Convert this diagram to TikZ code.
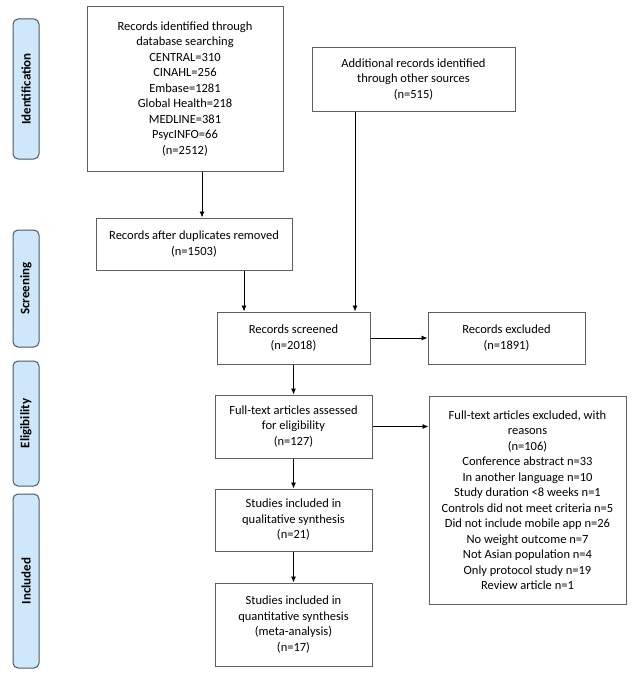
\documentclass[tikz,border=0pt]{standalone}
\usepackage{fontspec}
\setmainfont{Carlito}
\usetikzlibrary{arrows.meta}
\definecolor{boxline}{RGB}{95,95,95}
\definecolor{barline}{RGB}{75,88,100}
\definecolor{barfill}{RGB}{207,231,250}
\begin{document}
\begin{tikzpicture}[x=1pt,y=-1pt,
  box/.style={draw=boxline, line width=1pt, fill=white, align=center, inner sep=0pt,
    font=\fontsize{12.5}{15.5}\selectfont},
  bar/.style={draw=barline, fill=barfill, rounded corners=5pt, line width=1pt, inner sep=0pt,
    rotate=90, minimum height=26pt, font=\fontsize{13}{15}\selectfont\bfseries},
  arr/.style={-{Latex[length=6pt,width=5pt]}, line width=0.9pt, black}]
\useasboundingbox (0,0) rectangle (636,685);
% phase bars
\node[bar, minimum width=140pt] (pid) at (26,89) {Identification};
\node[bar, minimum width=117pt] (psc) at (26,288.5) {Screening};
\node[bar, minimum width=125pt] (pel) at (26,423.5) {Eligibility};
\node[bar, minimum width=174pt] (pin) at (26,581) {Included};
% boxes
\node[box, minimum width=196pt, minimum height=164pt] (A) at (185,89)
  {Records identified through\\database searching\\CENTRAL=310\\CINAHL=256\\Embase=1281\\Global Health=218\\MEDLINE=381\\PsycINFO=66\\(n=2512)};
\node[box, minimum width=196pt, minimum height=52pt] (B) at (194,244)
  {Records after duplicates removed\\(n=1503)};
\node[box, minimum width=203pt, minimum height=63pt] (C) at (413.5,79.5)
  {Additional records identified\\through other sources\\(n=515)};
\node[box, minimum width=153pt, minimum height=52pt] (S) at (293.5,338)
  {Records screened\\(n=2018)};
\node[box, minimum width=157pt, minimum height=52pt] (E) at (506.5,338)
  {Records excluded\\(n=1891)};
\node[box, minimum width=157pt, minimum height=63pt] (F) at (293.5,426.5)
  {Full-text articles assessed\\for eligibility\\(n=127)};
\node[box, minimum width=197pt, minimum height=208pt] (G) at (527.5,500)
  {Full-text articles excluded, with\\reasons\\(n=106)\\Conference abstract n=33\\In another language n=10\\Study duration <8 weeks n=1\\Controls did not meet criteria n=5\\Did not include mobile app n=26\\No weight outcome n=7\\Not Asian population n=4\\Only protocol study n=19\\Review article n=1};
\node[box, minimum width=157pt, minimum height=62pt] (Q) at (293.5,520)
  {Studies included in\\qualitative synthesis\\(n=21)};
\node[box, minimum width=157pt, minimum height=83pt] (R) at (293.5,624.5)
  {Studies included in\\quantitative synthesis\\(meta-analysis)\\(n=17)};
% arrow columns
\coordinate (xa) at (202,0);
\coordinate (xb) at (244,0);
\coordinate (xc) at (355,0);
% connectors
\draw[arr] (A.south -| xa) -- (B.north -| xa);
\draw[arr] (B.south -| xb) -- (S.north -| xb);
\draw[arr] (C.south -| xc) -- (S.north -| xc);
\draw[arr] (S.east) -- (E.west);
\draw[arr] (S.south) -- (F.north);
\draw[arr] (F.east) -- (G.west |- F.east);
\draw[arr] (F.south) -- (Q.north);
\draw[arr] (Q.south) -- (R.north);
\end{tikzpicture}
\end{document}
